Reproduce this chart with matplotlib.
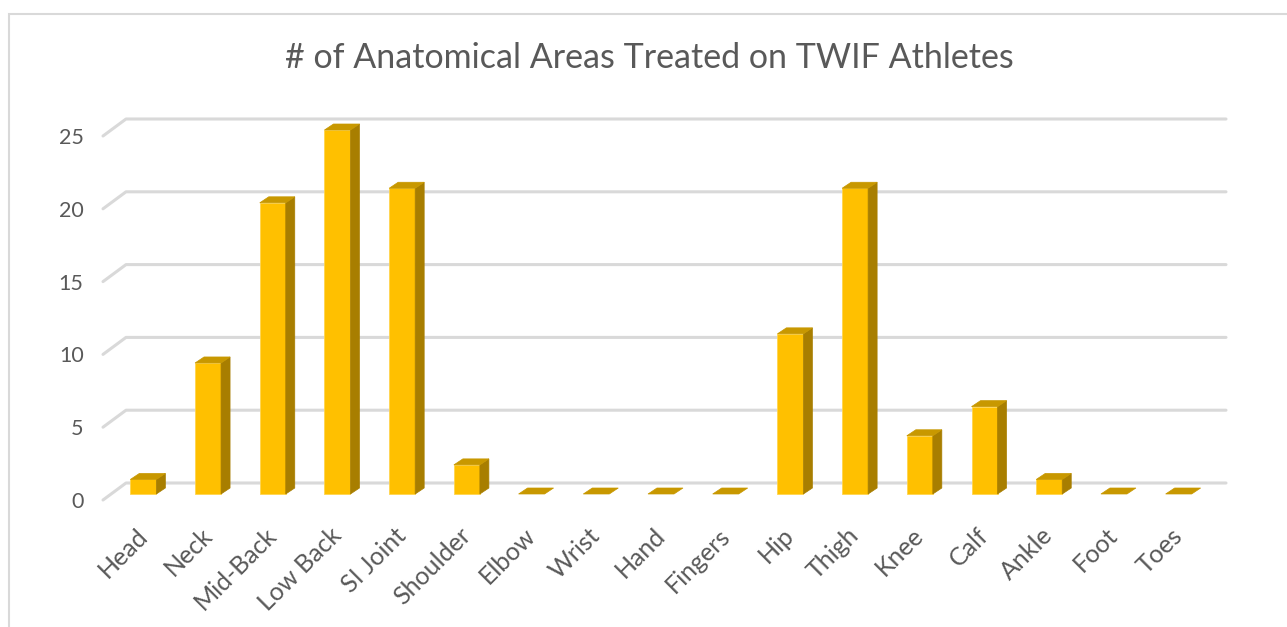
import matplotlib
matplotlib.use("Agg")
import matplotlib.pyplot as plt
from matplotlib.patches import Polygon, Rectangle
import numpy as np

plt.rcParams['font.family'] = ['Lato', 'DejaVu Sans']

categories = ["Head", "Neck", "Mid-Back", "Low Back", "SI Joint", "Shoulder", "Elbow",
              "Wrist", "Hand", "Fingers", "Hip", "Thigh", "Knee", "Calf", "Ankle", "Foot", "Toes"]
values = [1, 9, 20, 25, 21, 2, 0, 0, 0, 0, 11, 21, 4, 6, 1, 0, 0]
y_ticks = [0, 5, 10, 15, 20, 25]
title = "# of Anatomical Areas Treated on TWIF Athletes"

W, H, DPI = 1287, 627, 100
fig = plt.figure(figsize=(W / DPI, H / DPI), dpi=DPI)

# front plane of the plot area in pixels
px_left, px_right = 103, 1203
px_bottom, px_top = 500, 136
ax = fig.add_axes([px_left / W, (H - px_bottom) / H,
                   (px_right - px_left) / W, (px_bottom - px_top) / H])
n = len(categories)
ax.set_xlim(-0.5, n - 0.5)
ax.set_ylim(0, 25)
for s in ax.spines.values():
    s.set_visible(False)

ppx = (px_right - px_left) / n          # pixels per category
ppy = (px_bottom - px_top) / 25.0       # pixels per unit

def dx(p):
    return p / ppx

def dy(p):
    return p / ppy

grid_c = "#D9D9D9"
# back wall offset
wx, wy = dx(23), dy(17)
for v in y_ticks:
    ax.plot([-0.5, -0.5 + wx, n - 0.5 + wx], [v, v + wy, v + wy],
            color=grid_c, lw=2.2, solid_capstyle='round', clip_on=False, zorder=1)

# bars
front_c = "#FFC000"
top_c = "#C89800"
side_c = "#A87E00"
shift_x, shift_y = dx(8), dy(6)
bw = 26 / ppx
ddx, ddy = dx(9), dy(6)
xs = np.arange(n) + shift_x
for x, v in zip(xs, values):
    x0, x1 = x - bw / 2, x + bw / 2
    b = shift_y
    t = shift_y + v
    if v > 0:
        ax.bar([x], [v], width=bw, bottom=b, color=front_c, edgecolor="#FFD54F",
               linewidth=0.6, zorder=3, clip_on=False)
        ax.add_patch(Polygon([(x1, b), (x1 + ddx, b + ddy), (x1 + ddx, t + ddy), (x1, t)],
                             closed=True, facecolor=side_c, edgecolor=side_c, lw=0.5,
                             zorder=3, clip_on=False))
    ax.add_patch(Polygon([(x0, t), (x1, t), (x1 + ddx, t + ddy), (x0 + ddx, t + ddy)],
                         closed=True, facecolor=top_c, edgecolor=top_c, lw=0.5,
                         zorder=3, clip_on=False))

label_c = "#595959"
ax.set_yticks(y_ticks)
ax.set_yticklabels([str(v) for v in y_ticks], fontsize=15.5, color=label_c)
ax.tick_params(axis='y', length=0, pad=14)
ax.set_xticks(np.arange(n))
ax.set_xticklabels(categories, rotation=45, ha='right', va='top',
                   rotation_mode='anchor', fontsize=18, color=label_c)
ax.tick_params(axis='x', length=0, pad=17)

fig.text(649 / W, 1 - 58 / H, title, ha='center', va='center',
         fontsize=24.5, color=label_c)

# chart border
fig.add_artist(Rectangle((9 / W, -0.05), 1.1, (H - 14) / H + 0.05,
                         transform=fig.transFigure, fill=False,
                         edgecolor=grid_c, lw=1.5, zorder=0))

fig.savefig("out.png", dpi=DPI, facecolor="white")
